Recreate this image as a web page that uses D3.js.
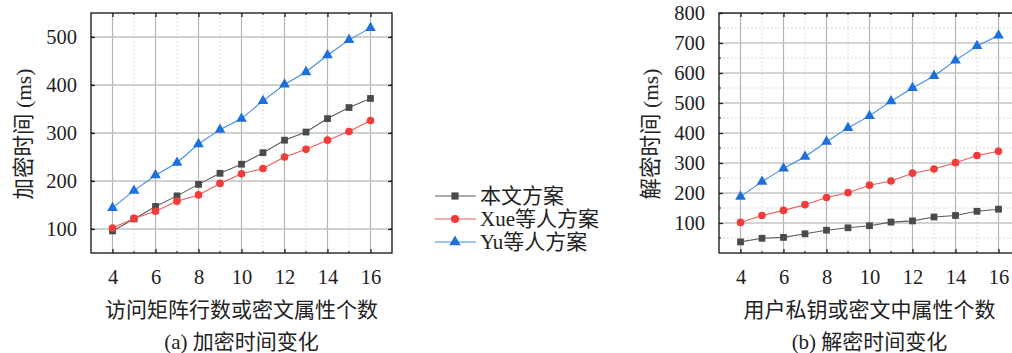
<!DOCTYPE html>
<html>
<head>
<meta charset="utf-8">
<script src="https://cdn.jsdelivr.net/npm/d3@7"></script>
<style>
  body { margin: 0; background: #fff; }
  svg text { fill: #222; }
</style>
</head>
<body>
<div id="chart"></div>
<script>
const xs = [4, 5, 6, 7, 8, 9, 10, 11, 12, 13, 14, 15, 16];
const seriesNames = ['本文方案', 'Xue等人方案', 'Yu等人方案'];

// (a) encryption time
const encOurs = [96, 121, 147, 169, 193, 216, 235, 259, 285, 302, 330, 353, 372];
const encXue = [102, 122, 137, 158, 171, 195, 215, 226, 250, 266, 285, 303, 326];
const encYu = [144, 180, 212, 238, 277, 307, 330, 367, 401, 427, 462, 494, 519];

// (b) decryption time
const decOurs = [37, 49, 52, 64, 76, 84, 91, 103, 107, 120, 125, 139, 146];
const decXue = [102, 125, 142, 161, 185, 201, 226, 240, 266, 280, 301, 325, 339];
const decYu = [188, 238, 282, 321, 371, 417, 457, 506, 550, 590, 642, 690, 725];

const xTicks = [4, 6, 8, 10, 12, 14, 16];
const xMinor = [3, 5, 7, 9, 11, 13, 15, 17];
const encTicks = [100, 200, 300, 400, 500];
const decTicks = [100, 200, 300, 400, 500, 600, 700, 800];

const styles = [
  { line: '#5c5c5c', fill: '#4a4a4a', symbol: d3.symbolSquare, size: 46 },
  { line: '#f25858', fill: '#f23c3c', symbol: d3.symbolCircle, size: 46 },
  { line: '#3f8ae8', fill: '#1d6fdb', symbol: d3.symbolTriangle, size: 50 }
];

const textFont = '"Liberation Serif", "Noto Sans CJK SC", serif';

const svg = d3.select('#chart').append('svg')
  .attr('width', 1012)
  .attr('height', 353);

function drawPanel(p) {
  const x = d3.scaleLinear().domain([3, 17]).range([p.left, p.right]);
  const y = d3.scaleLinear().domain(p.yDomain).range([p.bottom, p.top]);
  const g = svg.append('g');

  const clip = 'clip-' + p.id;
  svg.append('clipPath').attr('id', clip)
    .append('rect')
    .attr('x', p.left).attr('y', p.top)
    .attr('width', p.right - p.left).attr('height', p.bottom - p.top);

  const grid = g.append('g').attr('clip-path', `url(#${clip})`);
  const yMinor = d3.range(p.yDomain[0] + 50, p.yDomain[1], 100);

  // minor dashed grid
  grid.selectAll('.vminor').data(xMinor).enter().append('line')
    .attr('x1', d => x(d)).attr('x2', d => x(d))
    .attr('y1', p.top).attr('y2', p.bottom)
    .style('stroke', '#dcdcdc').style('stroke-dasharray', '2,2');
  grid.selectAll('.hminor').data(yMinor).enter().append('line')
    .attr('y1', d => y(d)).attr('y2', d => y(d))
    .attr('x1', p.left).attr('x2', p.right)
    .style('stroke', '#dcdcdc').style('stroke-dasharray', '2,2');
  // major grid
  grid.selectAll('.vmajor').data(xTicks).enter().append('line')
    .attr('x1', d => x(d)).attr('x2', d => x(d))
    .attr('y1', p.top).attr('y2', p.bottom)
    .style('stroke', '#b4b4b4').style('stroke-width', 1.2);
  grid.selectAll('.hmajor').data(p.yTicks).enter().append('line')
    .attr('y1', d => y(d)).attr('y2', d => y(d))
    .attr('x1', p.left).attr('x2', p.right)
    .style('stroke', '#c4c4c4').style('stroke-width', 1.4);

  // axes with inward ticks on every side
  const axes = [
    d3.axisBottom(x).tickValues(xTicks).tickSize(-4).tickPadding(16),
    d3.axisTop(x).tickValues(xTicks).tickSize(-4).tickFormat(''),
    d3.axisLeft(y).tickValues(p.yTicks).tickSize(-4).tickPadding(14),
    d3.axisRight(y).tickValues(p.yTicks).tickSize(-4).tickFormat('')
  ];
  const pos = [
    `translate(0,${p.bottom})`, `translate(0,${p.top})`,
    `translate(${p.left},0)`, `translate(${p.right},0)`
  ];
  axes.forEach((a, i) => {
    const ag = g.append('g').attr('transform', pos[i]).call(a);
    ag.select('.domain').remove();
    ag.selectAll('.tick line').style('stroke', '#222').style('stroke-width', 1.3);
    ag.selectAll('text').style('font-family', textFont).style('font-size', '20.5px').style('fill', '#222');
  });
  // minor ticks
  const mt = g.append('g');
  [p.bottom, p.top].forEach(yy => {
    mt.selectAll(null).data(xMinor.filter(d => d > 3 && d < 17)).enter().append('line')
      .attr('x1', d => x(d)).attr('x2', d => x(d))
      .attr('y1', yy).attr('y2', yy === p.bottom ? yy - 2 : yy + 2)
      .style('stroke', '#222');
  });
  [p.left, p.right].forEach(xx => {
    mt.selectAll(null).data(yMinor).enter().append('line')
      .attr('y1', d => y(d)).attr('y2', d => y(d))
      .attr('x1', xx).attr('x2', xx === p.left ? xx + 2 : xx - 2)
      .style('stroke', '#222');
  });

  // frame
  g.append('rect')
    .attr('x', p.left).attr('y', p.top)
    .attr('width', p.right - p.left).attr('height', p.bottom - p.top)
    .style('fill', 'none').style('stroke', '#111').style('stroke-width', 1.3);

  // series
  const line = d3.line().x((d, i) => x(xs[i])).y(d => y(d));
  p.series.forEach((vals, k) => {
    const s = styles[k];
    g.append('path').datum(vals)
      .attr('d', line)
      .style('fill', 'none').style('stroke', s.line).style('stroke-width', 1.1);
    g.selectAll(null).data(vals).enter().append('path')
      .attr('transform', (d, i) => `translate(${x(xs[i])},${y(d)})`)
      .attr('d', d3.symbol().type(s.symbol).size(s.size))
      .style('fill', s.fill);
  });

  // titles
  g.append('text')
    .attr('transform', `translate(${p.yTitleX},${(p.top + p.bottom) / 2 + 1}) rotate(-90)`)
    .attr('text-anchor', 'middle').attr('dy', '0.35em')
    .style('font-family', textFont).style('font-size', '21.5px')
    .text(p.yTitle);
  g.append('text')
    .attr('x', (p.left + p.right) / 2).attr('y', 310).attr('dy', '0.35em')
    .attr('text-anchor', 'middle')
    .style('font-family', textFont).style('font-size', '21px')
    .text(p.xTitle);
  g.append('text')
    .attr('x', (p.left + p.right) / 2).attr('y', 342).attr('dy', '0.35em')
    .attr('text-anchor', 'middle')
    .style('font-family', textFont).style('font-size', '21px')
    .text(p.caption);
}

drawPanel({
  id: 'a', left: 91, right: 392, top: 13, bottom: 253,
  yDomain: [50, 550], yTicks: encTicks,
  series: [encOurs, encXue, encYu],
  yTitleX: 23, yTitle: '加密时间 (ms)',
  xTitle: '访问矩阵行数或密文属性个数', caption: '(a) 加密时间变化'
});

drawPanel({
  id: 'b', left: 719, right: 1020, top: 13, bottom: 253,
  yDomain: [0, 800], yTicks: decTicks,
  series: [decOurs, decXue, decYu],
  yTitleX: 650, yTitle: '解密时间 (ms)',
  xTitle: '用户私钥或密文中属性个数', caption: '(b) 解密时间变化'
});

// legend
const legend = svg.append('g');
seriesNames.forEach((name, k) => {
  const s = styles[k];
  const yy = 196 + k * 23;
  legend.append('line')
    .attr('x1', 435).attr('x2', 476).attr('y1', yy).attr('y2', yy)
    .style('stroke', s.line).style('stroke-width', 1.1);
  legend.append('path')
    .attr('transform', `translate(455,${yy})`)
    .attr('d', d3.symbol().type(s.symbol).size(s.size + 6))
    .style('fill', s.fill);
  legend.append('text')
    .attr('x', 480).attr('y', yy).attr('dy', '0.35em')
    .style('font-family', textFont).style('font-size', '21px')
    .text(name);
});
</script>
</body>
</html>
